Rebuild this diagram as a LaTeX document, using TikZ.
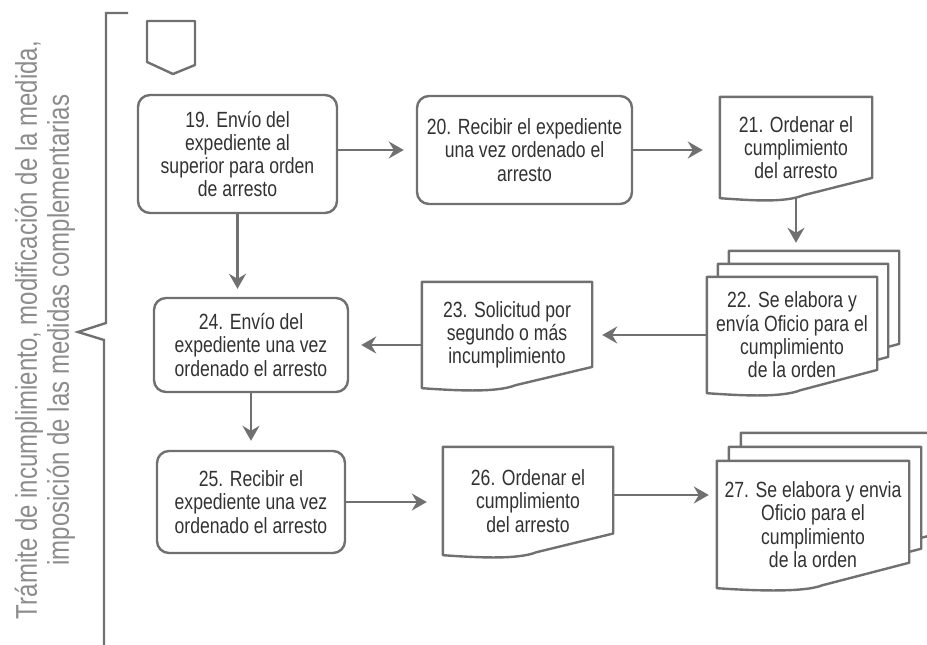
\documentclass[tikz,border=0pt]{standalone}
\usepackage{fontspec}
\setmainfont{Liberation Sans}[FakeStretch=0.8]
\usetikzlibrary{arrows.meta,calc,backgrounds}
\definecolor{linegray}{RGB}{112,112,112}
\definecolor{textgray}{RGB}{50,50,50}
\definecolor{sidegray}{RGB}{140,140,140}
\newcommand{\docpage}[1]{%
  \draw[docline] (#1.north west) -- (#1.north east)
    -- ($(#1.south east)!0.2!(#1.north east)$)
    -- ($(#1.south west)!0.55!(#1.south east)+(0,-3)$)
    .. controls +(-20,8) and +(30,2) .. (#1.south west) -- cycle;}
\begin{document}
\begin{tikzpicture}[x=1pt,y=-1pt,
   box/.style={draw=linegray, line width=2.4pt, rounded corners=12pt, text=textgray,
               align=center, inner sep=0pt, font=\fontsize{22}{23.3}\selectfont},
   doc/.style={text=textgray, align=center, inner sep=0pt,
               font=\fontsize{22}{23.3}\selectfont},
   docline/.style={draw=linegray, line width=2.4pt, fill=white, line join=round},
   line/.style={draw=linegray, line width=2.4pt},
   arrow/.style={line, -{Stealth[length=15pt,width=17pt,inset=5pt]}}]
   \useasboundingbox (0,0) rectangle (927,645);
   \clip (0,0) rectangle (927,645);
   % side title and brace
   \node[rotate=90, align=center, text=sidegray, font=\fontsize{30}{32}\selectfont] (title) at (45,330)
      {Trámite de incumplimiento, modificación de la medida,\\imposición de las medidas complementarias};
   \draw[line] (128,13) -- (106,13) -- (106,323) -- (78,332) -- (104,340) -- (104,645);
   \draw[docline] (147,21) -- (195,21) -- (195,65) -- (173,74) -- (147,62) -- cycle;
   % first row
   \node[box, minimum width=199pt, minimum height=118pt] (b19) at (237.5,154)
      {19. Envío del\\expediente al\\superior para orden\\de arresto};
   \node[box, minimum width=215pt, minimum height=108pt] (b20) at (524.5,150)
      {20. Recibir el expediente\\una vez ordenado el\\arresto};
   \node[doc, minimum width=152pt, minimum height=101pt] (d21) at (796,147.5)
      {21. Ordenar el\\cumplimiento\\del arresto};
   % second row
   \node[doc, minimum width=170pt, minimum height=116pt] (p22a) at (814,309) {};
   \node[doc, minimum width=170pt, minimum height=116pt] (p22b) at (803,322) {};
   \node[doc, minimum width=170pt, minimum height=116pt] (d22) at (792,335)
      {22. Se elabora y\\envía Oficio para el\\cumplimiento\\de la orden};
   \node[doc, minimum width=170pt, minimum height=106pt] (d23) at (507,335)
      {23. Solicitud por\\segundo o más\\incumplimiento};
   \node[box, minimum width=194pt, minimum height=94pt] (b24) at (251,345)
      {24. Envío del\\expediente una vez\\ordenado el arresto};
   % third row
   \node[box, minimum width=188pt, minimum height=102pt] (b25) at (251,502)
      {25. Recibir el\\expediente una vez\\ordenado el arresto};
   \node[doc, minimum width=170pt, minimum height=108pt] (d26) at (528,501)
      {26. Ordenar el\\cumplimiento\\del arresto};
   \node[doc, minimum width=192pt, minimum height=127pt] (p27a) at (837,496.5) {};
   \node[doc, minimum width=192pt, minimum height=127pt] (p27b) at (825,510.5) {};
   \node[doc, minimum width=192pt, minimum height=127pt] (d27) at (813,524.5)
      {27. Se elabora y envia\\Oficio para el\\cumplimiento\\de la orden};
   \begin{scope}[on background layer]
      \foreach \n in {d21,d23,d26,p22a,p22b,d22,p27a,p27b,d27} {\docpage{\n}}
   \end{scope}
   % connectors
   \coordinate (a26) at ($(d26.east)+(0,-6)$);
   \draw[arrow, shorten >=12pt] (b19.east |- b20.west) -- (b20.west);
   \draw[arrow, shorten >=17pt] (b20.east) -- (b20.east -| d21.west);
   \draw[arrow, shorten >=8pt] (d21.south) -- (d21.south |- p22a.north);
   \draw[arrow, shorten >=10pt] (d22.west) -- (d23.east);
   \draw[arrow, shorten >=12pt] (d23.west |- b24.east) -- (b24.east);
   \draw[arrow, shorten >=8pt] (b19.south) -- (b19.south |- b24.north);
   \draw[arrow, shorten >=9pt] (b24.south) -- (b25.north);
   \draw[arrow, shorten >=16pt] (b25.east) -- (b25.east -| d26.west);
   \draw[arrow, shorten >=8pt] (a26) -- (a26 -| d27.west);
\end{tikzpicture}
\end{document}
